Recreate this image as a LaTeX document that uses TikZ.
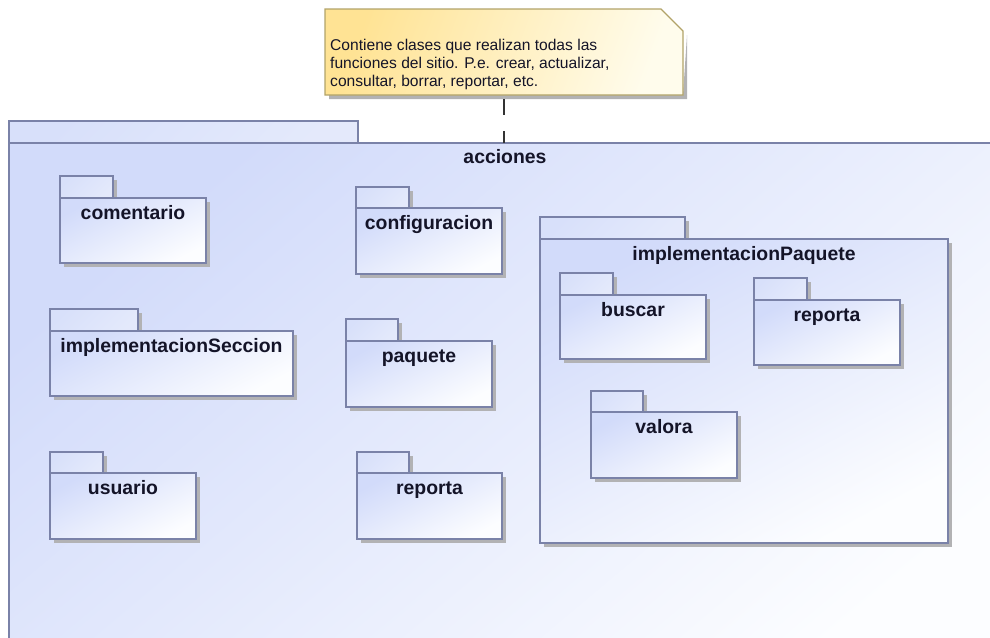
\documentclass[tikz,border=0pt]{standalone}
\usepackage{fontspec}
\setmainfont{Liberation Sans}
\definecolor{pkgline}{RGB}{122,130,168}
\definecolor{pkgblue}{RGB}{210,219,250}
\definecolor{pkgwhite}{RGB}{252,253,255}
\definecolor{pkgtabc}{RGB}{216,224,250}
\definecolor{shadowc}{RGB}{178,178,180}
\definecolor{noteA}{RGB}{255,227,148}
\definecolor{noteB}{RGB}{255,252,236}
\definecolor{noteline}{RGB}{178,163,104}
\definecolor{textc}{RGB}{20,20,40}

% UML package: name, left x, tab top, tab right, body top, right x, bottom, label
\newcommand{\umlpkg}[8]{%
  \fill[pkgshadow] ({#2+4},{#3+4}) rectangle ({#4+4},{#5+4});
  \fill[pkgshadow] ({#2+4},{#5+4}) rectangle ({#6+4},{#7+4});
  \path[pkgtab] (#2,#3) rectangle (#4,#5);
  \node[pkgbody, minimum width={(#6-#2)*1pt}, minimum height={(#7-#5)*1pt},
        anchor=north west] (#1) at (#2,#5) {};
  \node[pkglabel] (#1-label) at ([yshift=-21.5pt]#1.north) {#8};
}

\begin{document}
\begin{tikzpicture}[x=1pt,y=-1pt,
  pkgshadow/.style={fill=shadowc},
  pkgtab/.style={draw=pkgline, line width=1.3pt, top color=pkgtabc,
    bottom color=pkgtabc!70!white, shading angle=45},
  pkgbody/.style={draw=pkgline, line width=1.3pt, top color=pkgblue,
    bottom color=pkgwhite, shading angle=28, inner sep=0pt, outer sep=0pt},
  pkglabel/.style={anchor=base, inner sep=0pt, text=textc,
    font=\fontsize{19.4}{22}\selectfont\bfseries},
  notetext/.style={anchor=base west, inner sep=0pt, text=textc,
    font=\fontsize{15.6}{18}\selectfont},
  anchorline/.style={draw=black!80, line width=1.2pt,
    dash pattern=on 16pt off 16pt, dash phase=28pt}]
\useasboundingbox (0,0) rectangle (990,637);

\begin{scope}
  \clip (0,0) rectangle (990,637);
  % outer package "acciones" (runs past the page edges)
  \path[pkgtab] (9,121) rectangle (358,143);
  \node[draw=pkgline, line width=1.3pt, top color=pkgblue, bottom color=pkgwhite,
        shading angle=40, inner sep=0pt, outer sep=0pt,
        minimum width=992pt, minimum height=557pt, anchor=north west]
        (acc) at (9,143) {};
  \node[pkglabel] (acc-label) at ([yshift=-20pt]acc.north) {acciones};
\end{scope}

% nested packages
\umlpkg{comentario}{60}{176}{113}{198}{206}{263}{comentario}
\umlpkg{configuracion}{356}{187}{409}{208}{502}{274}{configuracion}
\umlpkg{implSeccion}{50}{309}{138}{331}{293}{396}{implementacionSeccion}
\umlpkg{paquete}{346}{319}{398}{341}{492}{407}{paquete}
\umlpkg{usuario}{50}{452}{103}{473}{196}{539}{usuario}
\umlpkg{reportaA}{357}{452}{409}{473}{502}{539}{reporta}
\umlpkg{implPaquete}{540}{217}{685}{239}{948}{543}{implementacionPaquete}
\umlpkg{buscar}{560}{273}{613}{295}{706}{359}{buscar}
\umlpkg{reportaB}{754}{278}{807}{300}{900}{365}{reporta}
\umlpkg{valora}{591}{391}{643}{412}{737}{478}{valora}

% note with folded corner
\node[inner sep=0pt, outer sep=0pt, minimum width=358pt, minimum height=86pt,
      anchor=north west] (note) at (325,9) {};
\fill[shadowc] ([shift={(4pt,-4pt)}]note.north east) ++(0,-22pt)
  -- ([shift={(4pt,-4pt)}]note.south east) -- ([shift={(4pt,-4pt)}]note.south west)
  -- ++(0,4pt) -- (note.south east) -- cycle;
\path[draw=noteline, line width=1.2pt, top color=noteA, bottom color=noteB,
      shading angle=70]
  (note.north west) -- ([xshift=-22pt]note.north east)
  -- ([yshift=-22pt]note.north east) -- (note.south east)
  -- (note.south west) -- cycle;
\node[notetext] (noteL1) at (330,50) {Contiene clases que realizan todas las};
\node[notetext] (noteL2) at (330,68) {funciones del sitio. P.e. crear, actualizar,};
\node[notetext] (noteL3) at (330,86) {consultar, borrar, reportar, etc.};

% anchor from the note to the package
\draw[anchorline] (note.south) -- (note.south |- acc.north);
\end{tikzpicture}
\end{document}
